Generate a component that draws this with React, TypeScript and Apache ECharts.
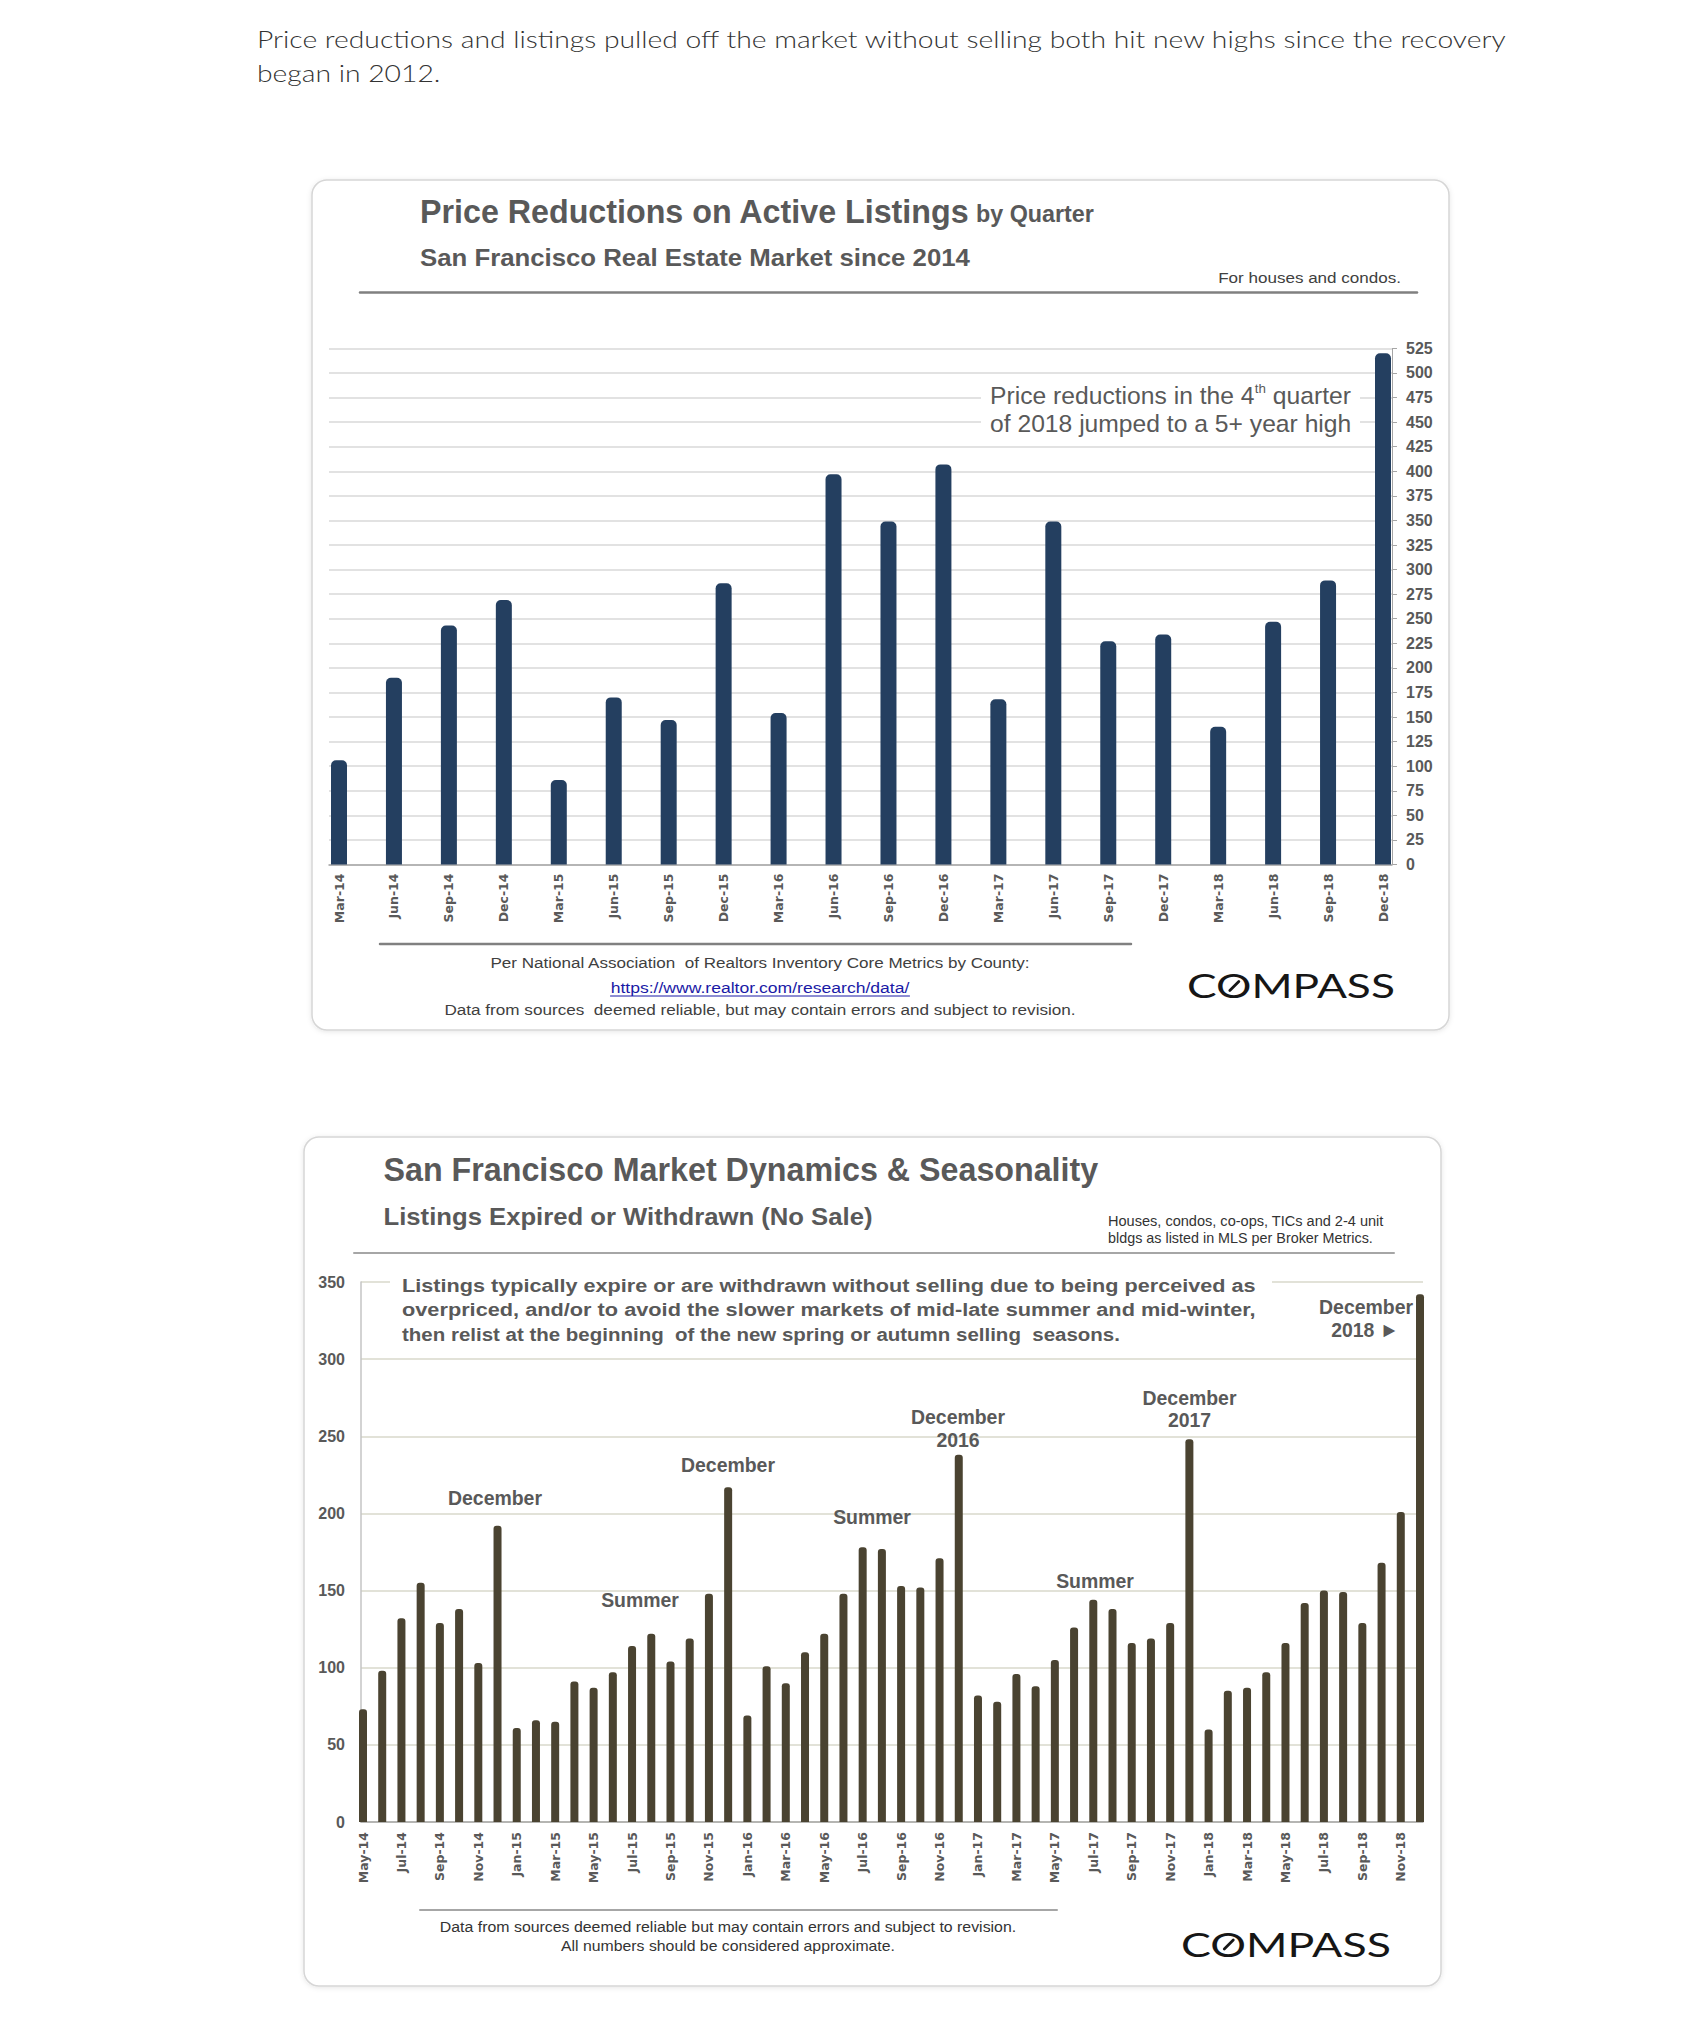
import React, { useEffect, useRef } from "react";
import * as echarts from "echarts";

// ---------- DATA ----------
const headingLines = [
  "Price reductions and listings pulled off the market without selling both hit new highs since the recovery",
  "began in 2012.",
];

const topCategories = [
  "Mar-14", "Jun-14", "Sep-14", "Dec-14",
  "Mar-15", "Jun-15", "Sep-15", "Dec-15",
  "Mar-16", "Jun-16", "Sep-16", "Dec-16",
  "Mar-17", "Jun-17", "Sep-17", "Dec-17",
  "Mar-18", "Jun-18", "Sep-18", "Dec-18",
];
const topValues = [106, 190, 243, 269, 86, 170, 147, 286, 154, 397, 349, 407, 168, 349, 227, 234, 140, 247, 289, 520];
const topAxis = { min: 0, max: 525, interval: 25 };

const bottomCategories = [
  "May-14", "Jun-14", "Jul-14", "Aug-14", "Sep-14", "Oct-14", "Nov-14", "Dec-14",
  "Jan-15", "Feb-15", "Mar-15", "Apr-15", "May-15", "Jun-15", "Jul-15", "Aug-15", "Sep-15", "Oct-15", "Nov-15", "Dec-15",
  "Jan-16", "Feb-16", "Mar-16", "Apr-16", "May-16", "Jun-16", "Jul-16", "Aug-16", "Sep-16", "Oct-16", "Nov-16", "Dec-16",
  "Jan-17", "Feb-17", "Mar-17", "Apr-17", "May-17", "Jun-17", "Jul-17", "Aug-17", "Sep-17", "Oct-17", "Nov-17", "Dec-17",
  "Jan-18", "Feb-18", "Mar-18", "Apr-18", "May-18", "Jun-18", "Jul-18", "Aug-18", "Sep-18", "Oct-18", "Nov-18", "Dec-18",
];
const bottomValues = [
  73, 98, 132, 155, 129, 138, 103, 192,
  61, 66, 65, 91, 87, 97, 114, 122, 104, 119, 148, 217,
  69, 101, 90, 110, 122, 148, 178, 177, 153, 152, 171, 238,
  82, 78, 96, 88, 105, 126, 144, 138, 116, 119, 129, 248,
  60, 85, 87, 97, 116, 142, 150, 149, 129, 168, 201, 342,
];
const bottomAxis = { min: 0, max: 350, interval: 50 };

const topTitle = "Price Reductions on Active Listings";
const topTitleSuffix = "by Quarter";
const topSubtitle = "San Francisco Real Estate Market since 2014";
const topScope = "For houses and condos.";
const topNote = ["Price reductions in the 4", "th", " quarter", "of 2018 jumped to a 5+ year high"];
const topFooter = [
  "Per National Association  of Realtors Inventory Core Metrics by County:",
  "https://www.realtor.com/research/data/",
  "Data from sources  deemed reliable, but may contain errors and subject to revision.",
];

const bottomTitle = "San Francisco Market Dynamics & Seasonality";
const bottomSubtitle = "Listings Expired or Withdrawn (No Sale)";
const bottomScope = ["Houses, condos, co-ops, TICs and 2-4 unit", "bldgs as listed in MLS per Broker Metrics."];
const bottomNote = [
  "Listings typically expire or are withdrawn without selling due to being perceived as",
  "overpriced, and/or to avoid the slower markets of mid-late summer and mid-winter,",
  "then relist at the beginning  of the new spring or autumn selling  seasons.",
];
const bottomFooter = [
  "Data from sources deemed reliable but may contain errors and subject to revision.",
  "All numbers should be considered approximate.",
];
const logoText = "COMPASS";

// ---------- STYLE ----------
const SANS = "'Liberation Sans', Arial, sans-serif";
const WIDE = "'DejaVu Sans', sans-serif";
const GEO = "Lato, 'Open Sans', sans-serif";
const GREY = "#595959";
const NAVY = "#243F60";
const OLIVE = "#4A4331";

function buildOption() {
  const ctx = document.createElement("canvas").getContext("2d") as CanvasRenderingContext2D;
  const mw = (text: string, size: number, weight: any, family: string) => {
    ctx.font = `${weight} ${size}px ${family}`;
    return ctx.measureText(text).width;
  };
  const T = (text: string, x: number, y: number, o: any) => {
    const weight = o.weight ?? "normal";
    const family = o.family ?? SANS;
    const sx = o.sx ?? (o.w ? o.w / mw(text, o.size, weight, family) : 1);
    const align = o.align ?? "left";
    return {
      type: "text",
      x,
      y,
      scaleX: sx,
      z: o.z ?? 10,
      silent: true,
      style: {
        text,
        fontSize: o.size,
        fontWeight: weight,
        fontFamily: family,
        fill: o.color ?? GREY,
        align,
        textAlign: align,
        verticalAlign: "middle",
        textVerticalAlign: "middle",
      },
    };
  };
  const L = (x1: number, y1: number, x2: number, y2: number, stroke: string, lw: number, z = 5) => ({
    type: "line",
    z,
    silent: true,
    shape: { x1, y1, x2, y2 },
    style: { stroke, lineWidth: lw, lineCap: "round" },
  });
  const card = (x: number, y: number, w: number, h: number) => ({
    type: "rect",
    z: -10,
    silent: true,
    shape: { x, y, width: w, height: h, r: 15 },
    style: { fill: "#fff", stroke: "#d6d6d6", lineWidth: 1.5, shadowBlur: 5, shadowColor: "rgba(0,0,0,0.10)", shadowOffsetY: 1 },
  });
  const whiteBox = (x: number, y: number, w: number, h: number) => ({
    type: "rect",
    z: 1,
    silent: true,
    shape: { x, y, width: w, height: h },
    style: { fill: "#fff" },
  });
  const logo = (x: number, y: number, w: number) => {
    const size = 33;
    const weight = "normal";
    const s = w / mw(logoText, size, weight, GEO);
    const wC = mw("C", size, weight, GEO) * s;
    const wO = mw("O", size, weight, GEO) * s;
    const cx = x + wC + wO / 2;
    const cy = y + 1;
    return [
      T(logoText, x, y, { size, weight, family: GEO, color: "#161616", sx: s }),
      L(cx - 4.5, cy + 4.5, cx + 4.5, cy - 4.5, "#161616", 2.8, 11),
    ];
  };

  // heading
  const headScale = 1251 / mw(headingLines[0], 24, 300, GEO);
  // top note pieces
  const nS = 24, nSup = 13;
  const w1 = mw(topNote[0], nS, "normal", SANS);
  const w2 = mw(topNote[1], nSup, "normal", SANS);
  const w3 = mw(topNote[2], nS, "normal", SANS);
  const noteScale = 361 / (w1 + w2 + w3);
  const nx = 990;
  // bottom annotations scale
  const aS = 21;
  const decScale = 94 / mw("December", aS, "bold", SANS);
  const annot = (text: string, x: number, y: number, align = "center") =>
    T(text, x, y, { size: aS, weight: "bold", sx: decScale, align });

  const linkW = 299;
  const graphics: any[] = [
    T(headingLines[0], 257, 39, { size: 24, weight: 300, family: GEO, color: "#333", sx: headScale }),
    T(headingLines[1], 257, 73, { size: 24, weight: 300, family: GEO, color: "#333", sx: headScale }),

    // ---- top card ----
    card(312, 180, 1137, 850),
    T(topTitle, 420, 211, { size: 33, weight: "bold", w: 550 }),
    T(topTitleSuffix, 976, 214, { size: 23, weight: "bold", w: 118 }),
    T(topSubtitle, 420, 257, { size: 24, weight: "bold", w: 550 }),
    T(topScope, 1401, 277, { size: 15, align: "right", w: 183, color: "#404040" }),
    L(360, 292.5, 1417, 292.5, "#808080", 2.5),
    whiteBox(981, 385, 379, 50),
    T(topNote[0], nx, 396, { size: nS, sx: noteScale }),
    T(topNote[1], nx + w1 * noteScale, 389, { size: nSup, sx: noteScale }),
    T(topNote[2], nx + (w1 + w2) * noteScale, 396, { size: nS, sx: noteScale }),
    T(topNote[3], nx, 424, { size: nS, sx: noteScale }),
    L(380, 944, 1131, 944, "#808080", 2.5),
    T(topFooter[0], 760, 962, { size: 15, align: "center", w: 541, color: "#404040" }),
    T(topFooter[1], 760, 987, { size: 15, align: "center", w: linkW, color: "#1a1aa6" }),
    L(760 - linkW / 2, 996, 760 + linkW / 2, 996, "#1a1aa6", 1),
    T(topFooter[2], 760, 1009, { size: 15, align: "center", w: 632, color: "#404040" }),
    ...logo(1187, 985, 208),

    // ---- bottom card ----
    card(304, 1137, 1137, 849),
    T(bottomTitle, 383.5, 1169, { size: 33, weight: "bold", w: 715 }),
    T(bottomSubtitle, 383.5, 1217, { size: 24, weight: "bold", w: 489 }),
    T(bottomScope[0], 1108, 1221, { size: 14, w: 276, color: "#333" }),
    T(bottomScope[1], 1108, 1238, { size: 14, w: 265, color: "#333" }),
    L(354, 1253, 1394, 1253, "#a6a6a6", 2),
    whiteBox(390, 1274, 882, 18),
    T(bottomNote[0], 402, 1285, { size: 19, weight: "bold", w: 854 }),
    T(bottomNote[1], 402, 1309, { size: 19, weight: "bold", w: 854 }),
    T(bottomNote[2], 402, 1334, { size: 19, weight: "bold", w: 718 }),
    annot("December", 495, 1498),
    annot("December", 728, 1465),
    annot("December", 958, 1417),
    annot("2016", 958, 1440),
    annot("December", 1189.5, 1397.5),
    annot("2017", 1189.5, 1420),
    annot("Summer", 640, 1600),
    annot("Summer", 872, 1517),
    annot("Summer", 1095, 1581),
    annot("December", 1413, 1306.5, "right"),
    annot("2018 \u25BA", 1399, 1330, "right"),
    L(420, 1910, 1057, 1910, "#a6a6a6", 2),
    T(bottomFooter[0], 728, 1927, { size: 15, align: "center", w: 577, color: "#333" }),
    T(bottomFooter[1], 728, 1946, { size: 15, align: "center", w: 334, color: "#333" }),
    ...logo(1181, 1943.5, 210),
  ];

  const topGrid = { top: 348.4, height: 516.1 };
  const botGrid = { top: 1282, height: 540 };

  return {
    animation: false,
    backgroundColor: "#fff",
    grid: [
      { left: 329, width: 1063, ...topGrid },
      { left: 339, width: 1044, ...topGrid },
      { left: 361, width: 1062, ...botGrid },
      { left: 363, width: 1057, ...botGrid },
    ],
    xAxis: [
      {
        gridIndex: 0, type: "value", min: 0, max: 1,
        axisLine: { show: true, onZero: false, lineStyle: { color: "#a6a6a6", width: 1.5 } },
        axisTick: { show: false }, axisLabel: { show: false }, splitLine: { show: false },
      },
      {
        gridIndex: 1, type: "category", data: topCategories, boundaryGap: false,
        axisLine: { show: false }, axisTick: { show: false },
        axisLabel: { interval: 0, rotate: 90, margin: 9, fontFamily: WIDE, fontWeight: "bold", fontSize: 12.5, color: GREY },
      },
      {
        gridIndex: 2, type: "value", min: 0, max: 1,
        axisLine: { show: true, onZero: false, lineStyle: { color: "#a6a6a6", width: 1.5 } },
        axisTick: { show: false }, axisLabel: { show: false }, splitLine: { show: false },
      },
      {
        gridIndex: 3, type: "category", data: bottomCategories, boundaryGap: false,
        axisLine: { show: false }, axisTick: { show: false },
        axisLabel: { interval: 1, rotate: 90, margin: 10, fontFamily: WIDE, fontWeight: "bold", fontSize: 12.5, color: GREY },
      },
    ],
    yAxis: [
      {
        gridIndex: 0, type: "value", position: "right", ...topAxis,
        axisLine: { show: true, onZero: false, lineStyle: { color: "#a6a6a6" } },
        axisTick: { show: true, length: 5, lineStyle: { color: "#a6a6a6" } },
        axisLabel: { margin: 14, fontFamily: SANS, fontWeight: "bold", fontSize: 16, color: GREY },
        splitLine: { show: true, lineStyle: { color: "#d9d9d9", width: 1.5 } },
      },
      { gridIndex: 1, type: "value", ...topAxis, show: false },
      {
        gridIndex: 2, type: "value", position: "left", ...bottomAxis,
        axisLine: { show: true, onZero: false, lineStyle: { color: "#c4c4c4", width: 1.5 } },
        axisTick: { show: false },
        axisLabel: { margin: 16, fontFamily: SANS, fontWeight: "bold", fontSize: 16, color: GREY },
        splitLine: { show: true, lineStyle: { color: "#d8d8cb", width: 1.5 } },
      },
      { gridIndex: 3, type: "value", ...bottomAxis, show: false },
    ],
    series: [
      {
        type: "bar", xAxisIndex: 1, yAxisIndex: 1, data: topValues, barWidth: 16,
        itemStyle: { color: NAVY, borderRadius: [5, 5, 0, 0] },
      },
      {
        type: "bar", xAxisIndex: 3, yAxisIndex: 3, data: bottomValues, barWidth: 8,
        itemStyle: { color: OLIVE, borderRadius: [3, 3, 0, 0] },
      },
    ],
    graphic: { elements: graphics },
  };
}

export default function App() {
  const ref = useRef<HTMLDivElement>(null);
  useEffect(() => {
    if (!ref.current) return;
    const chart = echarts.init(ref.current, null, { renderer: "svg" });
    chart.setOption(buildOption());
    return () => chart.dispose();
  }, []);
  return (
    <div
      ref={ref}
      style={{ position: "absolute", left: 0, top: 0, width: 1700, height: 2035, background: "#fff" }}
    />
  );
}
